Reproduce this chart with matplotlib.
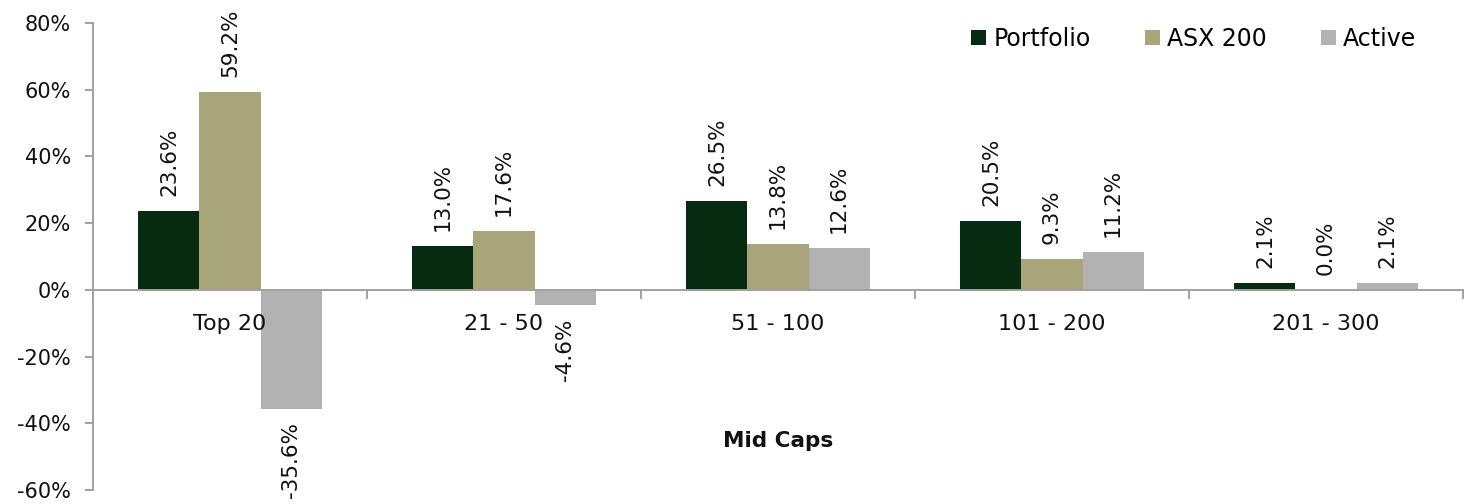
import matplotlib
matplotlib.use("Agg")
import matplotlib.pyplot as plt
import numpy as np

categories = ["Top 20", "21 - 50", "51 - 100", "101 - 200", "201 - 300"]
portfolio = [23.6, 13.0, 26.5, 20.5, 2.1]
asx200 = [59.2, 17.6, 13.8, 9.3, 0.0]
active = [-35.6, -4.6, 12.6, 11.2, 2.1]
series_names = ["Portfolio", "ASX 200", "Active"]
y_ticks = [-60, -40, -20, 0, 20, 40, 60, 80]

colors = ["#062b10", "#a9a57b", "#b2b2b2"]
axis_grey = "#a0a0a0"
text_col = "#111111"
font = "DejaVu Sans"

fig = plt.figure(figsize=(14.76, 5.04), dpi=100)
ax = fig.add_axes([93 / 1476, 1 - 490 / 504, (1463 - 93) / 1476, (490 - 23) / 504])

x = np.arange(len(categories))
w = 0.223
offsets = [-w, 0, w]
for vals, off, col, name in zip([portfolio, asx200, active], offsets, colors, series_names):
    bars = ax.bar(x + off, vals, width=w, color=col, label=name, zorder=2)
    for b, v in zip(bars, vals):
        cx = b.get_x() + b.get_width() / 2
        if v >= 0:
            ax.annotate(f"{v:.1f}%", (cx, v), xytext=(0, 11), textcoords="offset points",
                        rotation=90, ha="center", va="bottom",
                        fontsize=15.5, family=font, color=text_col)
        else:
            ax.annotate(f"{v:.1f}%", (cx, v), xytext=(0, -10), textcoords="offset points",
                        rotation=90, ha="center", va="top",
                        fontsize=15.5, family=font, color=text_col)

ax.set_xlim(-0.5, len(categories) - 0.5)
ax.set_ylim(-60, 80)
ax.set_yticks(y_ticks)
ax.set_yticklabels([f"{t}%" for t in y_ticks], family=font, fontsize=15, color=text_col)

for s in ["top", "right", "bottom"]:
    ax.spines[s].set_visible(False)
ax.spines["left"].set_color(axis_grey)
ax.spines["left"].set_linewidth(1.4)
ax.tick_params(axis="y", direction="out", length=6, color=axis_grey, width=1.4, pad=10)

# zero line with separator ticks between groups
ax.axhline(0, color=axis_grey, linewidth=1.4, zorder=3)
ax.set_xticks([])
for b in np.arange(len(categories) + 1) - 0.5:
    ax.plot([b, b], [0, -2.4], color=axis_grey, linewidth=1.4, clip_on=False, zorder=3)
for xi, c in zip(x, categories):
    ax.text(xi, -12.1, c, ha="center", va="baseline", fontsize=16, family=font, color=text_col)

ax.text(2.0, -47.1, "Mid Caps", ha="center", va="baseline", fontsize=15.5,
        family=font, fontweight="bold", color=text_col)

leg = ax.legend(loc="upper right", bbox_to_anchor=(1326 / 1370 + 0.005, 1.012), ncol=3,
                frameon=False, prop={"family": font, "size": 17},
                handlelength=0.64, handleheight=0.64, handletextpad=0.3,
                columnspacing=2.3, borderaxespad=0)

fig.savefig("out.png", dpi=100, facecolor="white")
